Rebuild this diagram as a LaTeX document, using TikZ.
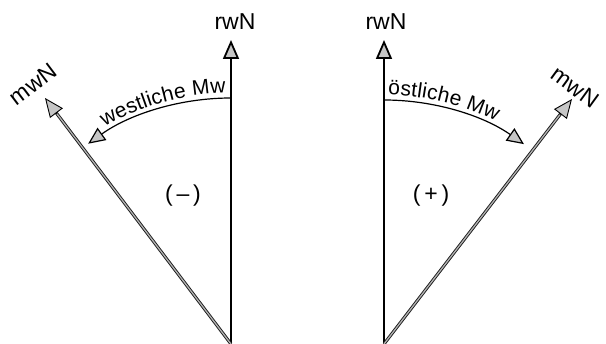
\documentclass[tikz,border=0pt]{standalone}
\usepackage{fontspec}
\setmainfont{Liberation Sans}
\usetikzlibrary{arrows.meta,calc,decorations.text}
\tikzset{
  tipA/.tip={Triangle[length=19pt,width=16pt,fill=gray!45]},
  tipB/.tip={Triangle[length=17pt,width=15pt,fill=gray!45]},
  vline/.style={line width=1.8pt,black},
  dline/.style={draw=black!90,line width=0.9pt,double=gray!60,double distance=1.3pt},
  arcline/.style={line width=1.2pt,black},
  lbl/.style={font=\fontsize{23}{25}\selectfont,inner sep=0pt},
}
\begin{document}
\begin{tikzpicture}[x=1pt,y=1pt]
\useasboundingbox (0,0) rectangle (606,344);
% left figure
\coordinate (O1) at (231,0);
\coordinate (T1) at (231,304);
\coordinate (M1) at (45,246);
\draw[vline,-tipA] (O1) -- (T1);
\draw[dline,shorten >=16pt] (O1) -- (M1);
\draw[line width=0.9pt,-tipA] ($(M1)!20pt!(O1)$) -- (M1);
\draw[arcline,-tipB] (231,246) arc[start angle=90,end angle=125.5,radius=246];
\path[decorate,decoration={text along path,text align={align=right,right indent=5pt},raise=5pt,
  text={|\fontsize{21}{23}\selectfont|westliche Mw}}]
  (O1) ++(127:246) arc[start angle=127,end angle=90,radius=246];
\node[lbl] (rw1) at (235,322) {rwN};
\node[lbl,rotate=37] (mw1) at (33,260) {mwN};
\node[lbl] (minus) at (183,148) {(\,--\,)};
% right figure
\coordinate (O2) at (384,0);
\coordinate (T2) at (384,304);
\coordinate (M2) at (572,245);
\draw[vline,-tipA] (O2) -- (T2);
\draw[dline,shorten >=16pt] (O2) -- (M2);
\draw[line width=0.9pt,-tipA] ($(M2)!20pt!(O2)$) -- (M2);
\draw[arcline,-tipB] (384,244) arc[start angle=90,end angle=55,radius=244];
\path[decorate,decoration={text along path,text align={align=left,left indent=4pt},raise=5pt,
  text={|\fontsize{21}{23}\selectfont|östliche Mw}}]
  (384,244) arc[start angle=90,end angle=55,radius=244];
\node[lbl] (rw2) at (386,322) {rwN};
\node[lbl,rotate=-36] (mw2) at (575,257) {mwN};
\node[lbl] (plus) at (431,148) {(\,+\,)};
\end{tikzpicture}
\end{document}
